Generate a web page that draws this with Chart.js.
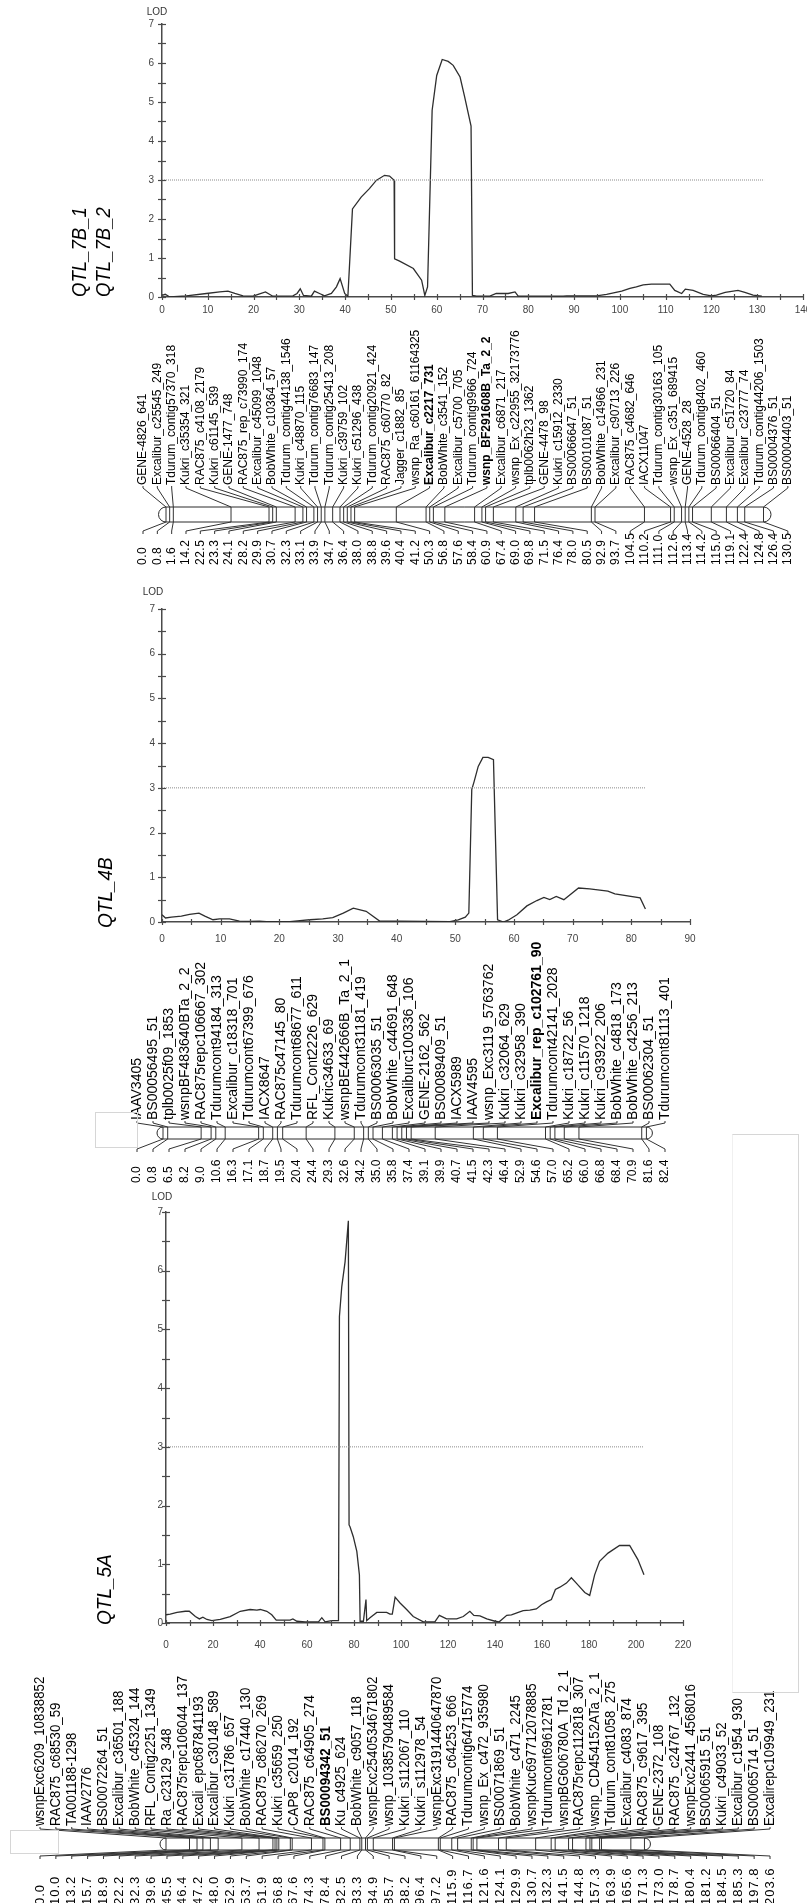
<!DOCTYPE html>
<html>
<head>
<meta charset="utf-8">
<script src="https://cdn.jsdelivr.net/npm/chart.js@4.4.0/dist/chart.umd.min.js"></script>
<style>
body { margin: 0; background: #fff; }
#page { position: relative; width: 807px; height: 1903px; overflow: hidden; }
#page canvas { position: absolute; left: 0; }
.box { position: absolute; border: 1px solid #d6d6d6; box-sizing: border-box; }
</style>
</head>
<body>
<div id="page">
  <canvas id="c7b" width="807" height="575" style="top:0px"></canvas>
  <canvas id="c4b" width="807" height="615" style="top:575px"></canvas>
  <canvas id="c5a" width="807" height="713" style="top:1190px"></canvas>
  <div class="box" style="left:95px;top:1112px;width:43px;height:36px"></div>
  <div class="box" style="left:732px;top:1134px;width:67px;height:559px;border-left-color:#f0f0f0"></div>
  <div class="box" style="left:10px;top:1830px;width:49px;height:24px"></div>
</div>
<script>
// LOD profiles (cM / LOD)
const cm7B = [0,0.7,1.7,5.3,9.7,12.6,14.4,15.9,17.7,19.9,21,22.6,24.2,28.6,29.5,30.2,30.9,32.6,33.3,34.4,35.5,37,38.1,38.9,39.9,40.6,41.6,43.5,45.3,46.8,48.6,49.7,50.7,50.8,51.9,54.9,56.7,57.4,58,59,60,61.2,62.5,63.6,65.1,66.1,67.5,67.8,68.7,71.6,73,75.6,77.1,77.8,87.6,88.4,94.9,97.1,100.4,102.2,103.6,105.1,106.9,110.9,112,113.5,114.3,116,118.2,120,121.1,123,125.8,127.3,129.1,131];
const lod7B = [0.04,0.07,0,0.03,0.09,0.13,0.15,0.09,0.03,0.02,0.07,0.13,0.02,0.03,0.09,0.21,0.04,0.02,0.15,0.09,0.03,0.09,0.26,0.47,0.09,0.02,2.26,2.56,2.78,2.99,3.12,3.1,2.99,0.98,0.92,0.73,0.43,0.04,0.26,4.79,5.68,6.09,6.04,5.94,5.64,5.13,4.38,0.04,0.02,0.02,0.09,0.09,0.13,0.02,0.02,0.03,0.03,0.07,0.15,0.22,0.26,0.31,0.33,0.33,0.17,0.09,0.2,0.17,0.07,0.03,0.05,0.12,0.17,0.12,0.05,0.02];

const cm4B = [0,0.6,1.6,3.3,4.7,6.3,7.3,8.7,9.8,11.5,13.2,14.7,16.6,17.8,21.8,23.5,25.2,27.4,29.1,30.9,32.6,34.8,37.1,40.5,49.1,50.5,51.7,52.3,52.8,53.2,53.9,54.7,55.6,56.5,57.2,58.2,59,60.5,62.2,63.9,65.1,66.1,67.2,68.5,71,72.9,76,77.2,81.5,82.4];
const lod4B = [0.16,0.09,0.11,0.13,0.17,0.2,0.13,0.05,0.07,0.07,0.02,0.015,0.02,0.01,0.01,0.03,0.05,0.07,0.1,0.2,0.31,0.24,0.02,0.02,0.01,0.05,0.11,0.2,2.96,3.14,3.48,3.68,3.68,3.63,0.05,0,0.04,0.16,0.36,0.48,0.55,0.5,0.57,0.5,0.76,0.74,0.69,0.63,0.54,0.29];

const cm5A = [0,1.8,4.7,8.2,9.9,12.5,14.2,15.7,17.4,19.5,23.1,27.3,31.6,35.8,38.7,40.1,42.9,45,46.9,52.8,54,55.7,59.2,64.9,66.3,67.7,70.5,73.4,73.8,74.8,76.2,77.6,77.9,78.3,79.7,81.2,82.3,82.6,84,85.1,85.4,86.8,89.7,93.9,95.3,96.3,97.5,99.6,102.4,105.2,109.5,114.4,116.3,119.4,123.7,126.5,129.3,131,133.6,136.5,140,141.8,145,147,149.9,152,154.8,157.6,159.8,161.9,164,165.7,167.6,170.4,172.5,174.6,178.2,180.3,182.4,184.5,188.1,193,197.3,200.8,203.4];
const lod5A = [0.14,0.15,0.18,0.2,0.2,0.11,0.07,0.1,0.06,0.04,0.06,0.11,0.2,0.23,0.22,0.23,0.2,0.14,0.05,0.05,0.07,0.03,0.02,0.02,0.09,0.02,0.04,0.04,5.22,5.73,6.15,6.85,1.67,1.64,1.47,1.22,0.82,0.03,0.03,0.4,0.04,0.09,0.18,0.18,0.15,0.15,0.44,0.34,0.23,0.11,0.02,0.02,0.13,0.07,0.07,0.11,0.2,0.13,0.12,0.07,0.03,0.02,0.13,0.14,0.18,0.21,0.22,0.24,0.31,0.36,0.4,0.57,0.61,0.68,0.77,0.68,0.52,0.47,0.82,1.05,1.19,1.32,1.32,1.08,0.82];

const threshold = 3;

// linkage maps
const names7B = ["GENE-4826_641","Excalibur_c25545_249","Tdurum_contig57370_318","Kukri_c35354_321","RAC875_c4108_2179","Kukri_c61145_539","GENE-1477_748","RAC875_rep_c73990_174","Excalibur_c45099_1048","BobWhite_c10364_57","Tdurum_contig44138_1546","Kukri_c48870_115","Tdurum_contig76683_147","Tdurum_contig25413_208","Kukri_c39759_102","Kukri_c51296_438","Tdurum_contig20921_424","RAC875_c60770_82","Jagger_c1882_85","wsnp_Ra_c60161_61164325","Excalibur_c2217_731","BobWhite_c3541_152","Excalibur_c5700_705","Tdurum_contig9966_724","wsnp_BF291608B_Ta_2_2","Excalibur_c6871_217","wsnp_Ex_c22955_32173776","tplb0062h23_1362","GENE-4478_98","Kukri_c15912_2330","BS00066647_51","BS00101087_51","BobWhite_c14966_231","Excalibur_c90713_226","RAC875_c4682_646","IACX11047","Tdurum_contig30163_105","wsnp_Ex_c351_689415","GENE-4528_28","Tdurum_contig8402_460","BS00066404_51","Excalibur_c51720_84","Excalibur_c23777_74","Tdurum_contig44206_1503","BS00004376_51","BS00004403_51"];
const pos7B = [0.0,0.8,1.6,14.2,22.5,23.3,24.1,28.2,29.9,30.7,32.3,33.1,33.9,34.7,36.4,38.0,38.8,39.6,40.4,41.2,50.3,56.8,57.6,58.4,60.9,67.4,69.0,69.8,71.5,76.4,78.0,80.5,92.9,93.7,104.5,110.2,111.0,112.6,113.4,114.2,115.0,119.1,122.4,124.8,126.4,130.5];
const bold7B = ["Excalibur_c2217_731","wsnp_BF291608B_Ta_2_2"];

const names4B = ["IAAV3405","BS00056495_51","tplb0025f09_1853","wsnpBF483640BTa_2_2","RAC875repc106667_302","Tdurumcont94184_313","Excalibur_c18318_701","Tdurumcont67399_676","IACX8647","RAC875c47145_80","Tdurumcont68677_611","RFL_Cont2226_629","Kukric34633_69","wsnpBE442666B_Ta_2_1","Tdurumcont31181_419","BS00063035_51","BobWhite_c44691_648","Excaliburc100336_106","GENE-2162_562","BS00089409_51","IACX5989","IAAV4595","wsnp_Exc3119_5763762","Kukri_c32064_629","Kukri_c32958_390","Excalibur_rep_c102761_90","Tdurumcont42141_2028","Kukri_c18722_56","Kukri_c11570_1218","Kukri_c93922_206","BobWhite_c4818_173","BobWhite_c4256_213","BS00062304_51","Tdurumcont81113_401"];
const pos4B = [0.0,0.8,6.5,8.2,9.0,10.6,16.3,17.1,18.7,19.5,20.4,24.4,29.3,32.6,34.2,35.0,35.8,37.4,39.1,39.9,40.7,41.5,42.3,46.4,52.9,54.6,57.0,65.2,66.0,66.8,68.4,70.9,81.6,82.4];
const bold4B = ["Excalibur_rep_c102761_90"];

const names5A = ["wsnpExc6209_10838852","RAC875_c68530_59","TA001188-1298","IAAV2776","BS00072264_51","Excalibur_c36501_188","BobWhite_c45324_144","RFL_Contig2251_1349","Ra_c23129_348","RAC875repc106044_137","Excali_epc687841193","Excalibur_c30148_589","Kukri_c31786_657","BobWhite_c17440_130","RAC875_c86270_269","Kukri_c35659_250","CAP8_c2014_192","RAC875_c64905_274","BS00094342_51","Ku_c4925_624","BobWhite_c9057_118","wsnpExc2540534671802","wsnp_10385790489584","Kukri_s112067_110","Kukri_s112978_54","wsnpExc3191440647870","RAC875_c64253_666","Tdurumcontig64715774","wsnp_Ex_c472_935980","BS00071869_51","BobWhite_c471_2245","wsnpKuc697712078885","Tdurumcont69612781","wsnpBG606780A_Td_2_1","RAC875repc112818_307","wsnp_CD454152ATa_2_1","Tdurum_cont81058_275","Excalibur_c4083_874","RAC875_c9617_395","GENE-2372_108","RAC875_c24767_132","wsnpExc2441_4568016","BS00065915_51","Kukri_c49033_52","Excalibur_c1954_930","BS00065714_51","Excalirepc109949_231"];
const pos5A = [0.0,10.0,13.2,15.7,18.9,22.2,32.3,39.6,45.5,46.4,47.2,48.0,52.9,53.7,61.9,66.8,67.6,74.3,78.4,82.5,83.3,84.9,85.7,88.2,96.4,97.2,115.9,116.7,121.6,124.1,129.9,130.7,132.3,141.5,144.8,157.3,163.9,165.6,171.3,173.0,178.7,180.4,181.2,184.5,185.3,197.8,203.6];
const bold5A = ["BS00094342_51"];

const FONT = "Arial, 'Liberation Sans', sans-serif";
const W = 807;

function seg(ctx, x1, y1, x2, y2) {
  ctx.beginPath(); ctx.moveTo(x1, y1); ctx.lineTo(x2, y2); ctx.stroke();
}

function vtext(ctx, s, x, y, font, sx, base, spacing) {
  ctx.save();
  ctx.translate(x, y);
  ctx.rotate(-Math.PI / 2);
  ctx.scale(sx || 1, 1);
  ctx.font = font;
  if (spacing) ctx.letterSpacing = spacing;
  ctx.textAlign = 'left';
  ctx.textBaseline = base || 'middle';
  ctx.fillText(s, 0, 0);
  ctx.restore();
}

function mapPlugin(p) {
  return {
    id: 'qtlMap',
    afterDraw(chart) {
      const ctx = chart.ctx, xs = chart.scales.x, ys = chart.scales.y;
      ctx.save();
      // axis ticks crossing the axis lines
      ctx.strokeStyle = '#4a4a4a'; ctx.lineWidth = 1.2;
      for (let v = 0; v <= xs.max + 1e-6; v += p.xMinor) {
        const px = Math.round(xs.getPixelForValue(v)) + 0.5;
        seg(ctx, px, ys.bottom - 3, px, ys.bottom + 3);
      }
      for (let v = 0; v <= 7 + 1e-6; v += 0.5) {
        const py = Math.round(ys.getPixelForValue(v)) + 0.5;
        seg(ctx, xs.left - 4, py, xs.left + 4, py);
      }
      ctx.fillStyle = '#333';
      ctx.font = '10px ' + FONT;
      ctx.textAlign = 'center'; ctx.textBaseline = 'middle';
      ctx.fillText('LOD', p.lodX, p.lodY);

      ctx.fillStyle = '#000';
      p.qtl.forEach(q => vtext(ctx, q[0], q[1], q[2], 'italic 20px ' + FONT, q[3], 'alphabetic'));

      // linkage map under the profile
      const m = p.map;
      const bx = v => xs.getPixelForValue(v) + m.shift;
      const last = m.pos.length - 1;
      const x0 = bx(m.pos[0]), x1 = bx(m.pos[last]);
      const r = (m.barBot - m.barTop) / 2, cy = (m.barTop + m.barBot) / 2;
      ctx.strokeStyle = '#2a2a2a'; ctx.lineWidth = 1;
      ctx.beginPath();
      ctx.moveTo(x0, m.barTop); ctx.lineTo(x1, m.barTop);
      ctx.arc(x1, cy, r, -Math.PI / 2, Math.PI / 2);
      ctx.lineTo(x0, m.barBot);
      ctx.arc(x0, cy, r, Math.PI / 2, Math.PI * 1.5);
      ctx.closePath(); ctx.stroke();

      ctx.strokeStyle = '#333';
      m.names.forEach((name, i) => {
        const b = bx(m.pos[i]);
        const L = m.x0 + i * m.dx;
        seg(ctx, b, m.barTop, b, m.barBot);
        ctx.beginPath();
        ctx.moveTo(L, m.labelBase + 1);
        ctx.lineTo(L, m.labelBase + 3);
        ctx.lineTo(b, m.barTop);
        ctx.stroke();
        ctx.beginPath();
        ctx.moveTo(b, m.barBot);
        ctx.lineTo(L, m.numEnd - 3);
        ctx.lineTo(L, m.numEnd);
        ctx.stroke();
        ctx.fillStyle = '#000';
        const isBold = m.bold.indexOf(name) >= 0;
        vtext(ctx, name, L, m.labelBase, (isBold ? 'bold ' : '') + m.labelFont + ' ' + FONT, m.labelSx);
        vtext(ctx, m.pos[i].toFixed(1), L, m.numBase, m.numFont + ' ' + FONT, 1, 'middle', m.numSpacing);
      });
      ctx.restore();
    }
  };
}

function makePanel(id, cm, lod, thrEnd, p) {
  const cv = document.getElementById(id);
  const H = cv.height;
  const pts = cm.map((x, i) => ({ x: x, y: lod[i] }));
  return new Chart(cv, {
    type: 'line',
    data: {
      datasets: [
        { data: [{ x: 0, y: threshold }, { x: thrEnd, y: threshold }], borderColor: '#8c8c8c', borderWidth: 1, borderDash: [1, 1], pointRadius: 0 },
        { data: pts, borderColor: '#2e2e2e', borderWidth: 1.3, pointRadius: 0, tension: 0 }
      ]
    },
    options: {
      responsive: false,
      animation: false,
      events: [],
      layout: { padding: { left: 0, top: p.top, right: W - p.right, bottom: H - p.bottom - 30 } },
      plugins: { legend: { display: false }, tooltip: { enabled: false } },
      scales: {
        x: {
          type: 'linear', min: 0, max: p.xmax,
          ticks: { stepSize: p.xStep, color: '#444', font: { size: 10, family: FONT }, padding: p.xPad, maxRotation: 0, autoSkip: false },
          grid: { display: false, drawTicks: false },
          border: { display: true, color: '#4a4a4a', width: 1.5 },
          afterFit(s) { s.height = 30; s.paddingLeft = 0; s.paddingRight = 0; }
        },
        y: {
          min: 0, max: 7,
          ticks: { stepSize: 1, color: '#444', font: { size: 10, family: FONT }, padding: p.yPad },
          grid: { display: false, drawTicks: false },
          border: { display: true, color: '#4a4a4a', width: 1.5 },
          afterFit(s) { s.width = p.left; s.paddingTop = 0; s.paddingBottom = 0; }
        }
      }
    },
    plugins: [mapPlugin(p)]
  });
}

makePanel('c7b', cm7B, lod7B, 131.5, {
  left: 162, right: 803, top: 24, bottom: 297, xmax: 140, xStep: 10, xMinor: 5, xPad: 7, yPad: 8,
  lodX: 157, lodY: 12,
  qtl: [['QTL_7B_1', 86, 297, 0.93], ['QTL_7B_2', 110, 297, 0.93]],
  map: { names: names7B, pos: pos7B, bold: bold7B, shift: 4, x0: 143, dx: 14.33,
         labelBase: 485, barTop: 507, barBot: 522, numEnd: 534, numBase: 565,
         labelFont: '12px', labelSx: 1, numFont: '12px', numSpacing: '0.5px' }
});

makePanel('c4b', cm4B, lod4B, 82.4, {
  left: 162, right: 690, top: 34, bottom: 347, xmax: 90, xStep: 10, xMinor: 5, xPad: 11, yPad: 7,
  lodX: 153, lodY: 17,
  qtl: [['QTL_4B', 112, 353, 0.95]],
  map: { names: names4B, pos: pos4B, bold: bold4B, shift: 1, x0: 137, dx: 16,
         labelBase: 545, barTop: 552, barBot: 564, numEnd: 577, numBase: 608,
         labelFont: '14px', labelSx: 1, numFont: '12px', numSpacing: '0px' }
});

makePanel('c5a', cm5A, lod5A, 203.3, {
  left: 166, right: 683, top: 22, bottom: 433, xmax: 220, xStep: 20, xMinor: 10, xPad: 16, yPad: 3,
  lodX: 162, lodY: 7,
  qtl: [['QTL_5A', 111, 435, 0.95]],
  map: { names: names5A, pos: pos5A, bold: bold5A, shift: 0, x0: 40, dx: 15.87,
         labelBase: 636, barTop: 648, barBot: 660, numEnd: 669, numBase: 715,
         labelFont: '14px', labelSx: 0.95, numFont: '13px', numSpacing: '1px' }
});
</script>
</body>
</html>
